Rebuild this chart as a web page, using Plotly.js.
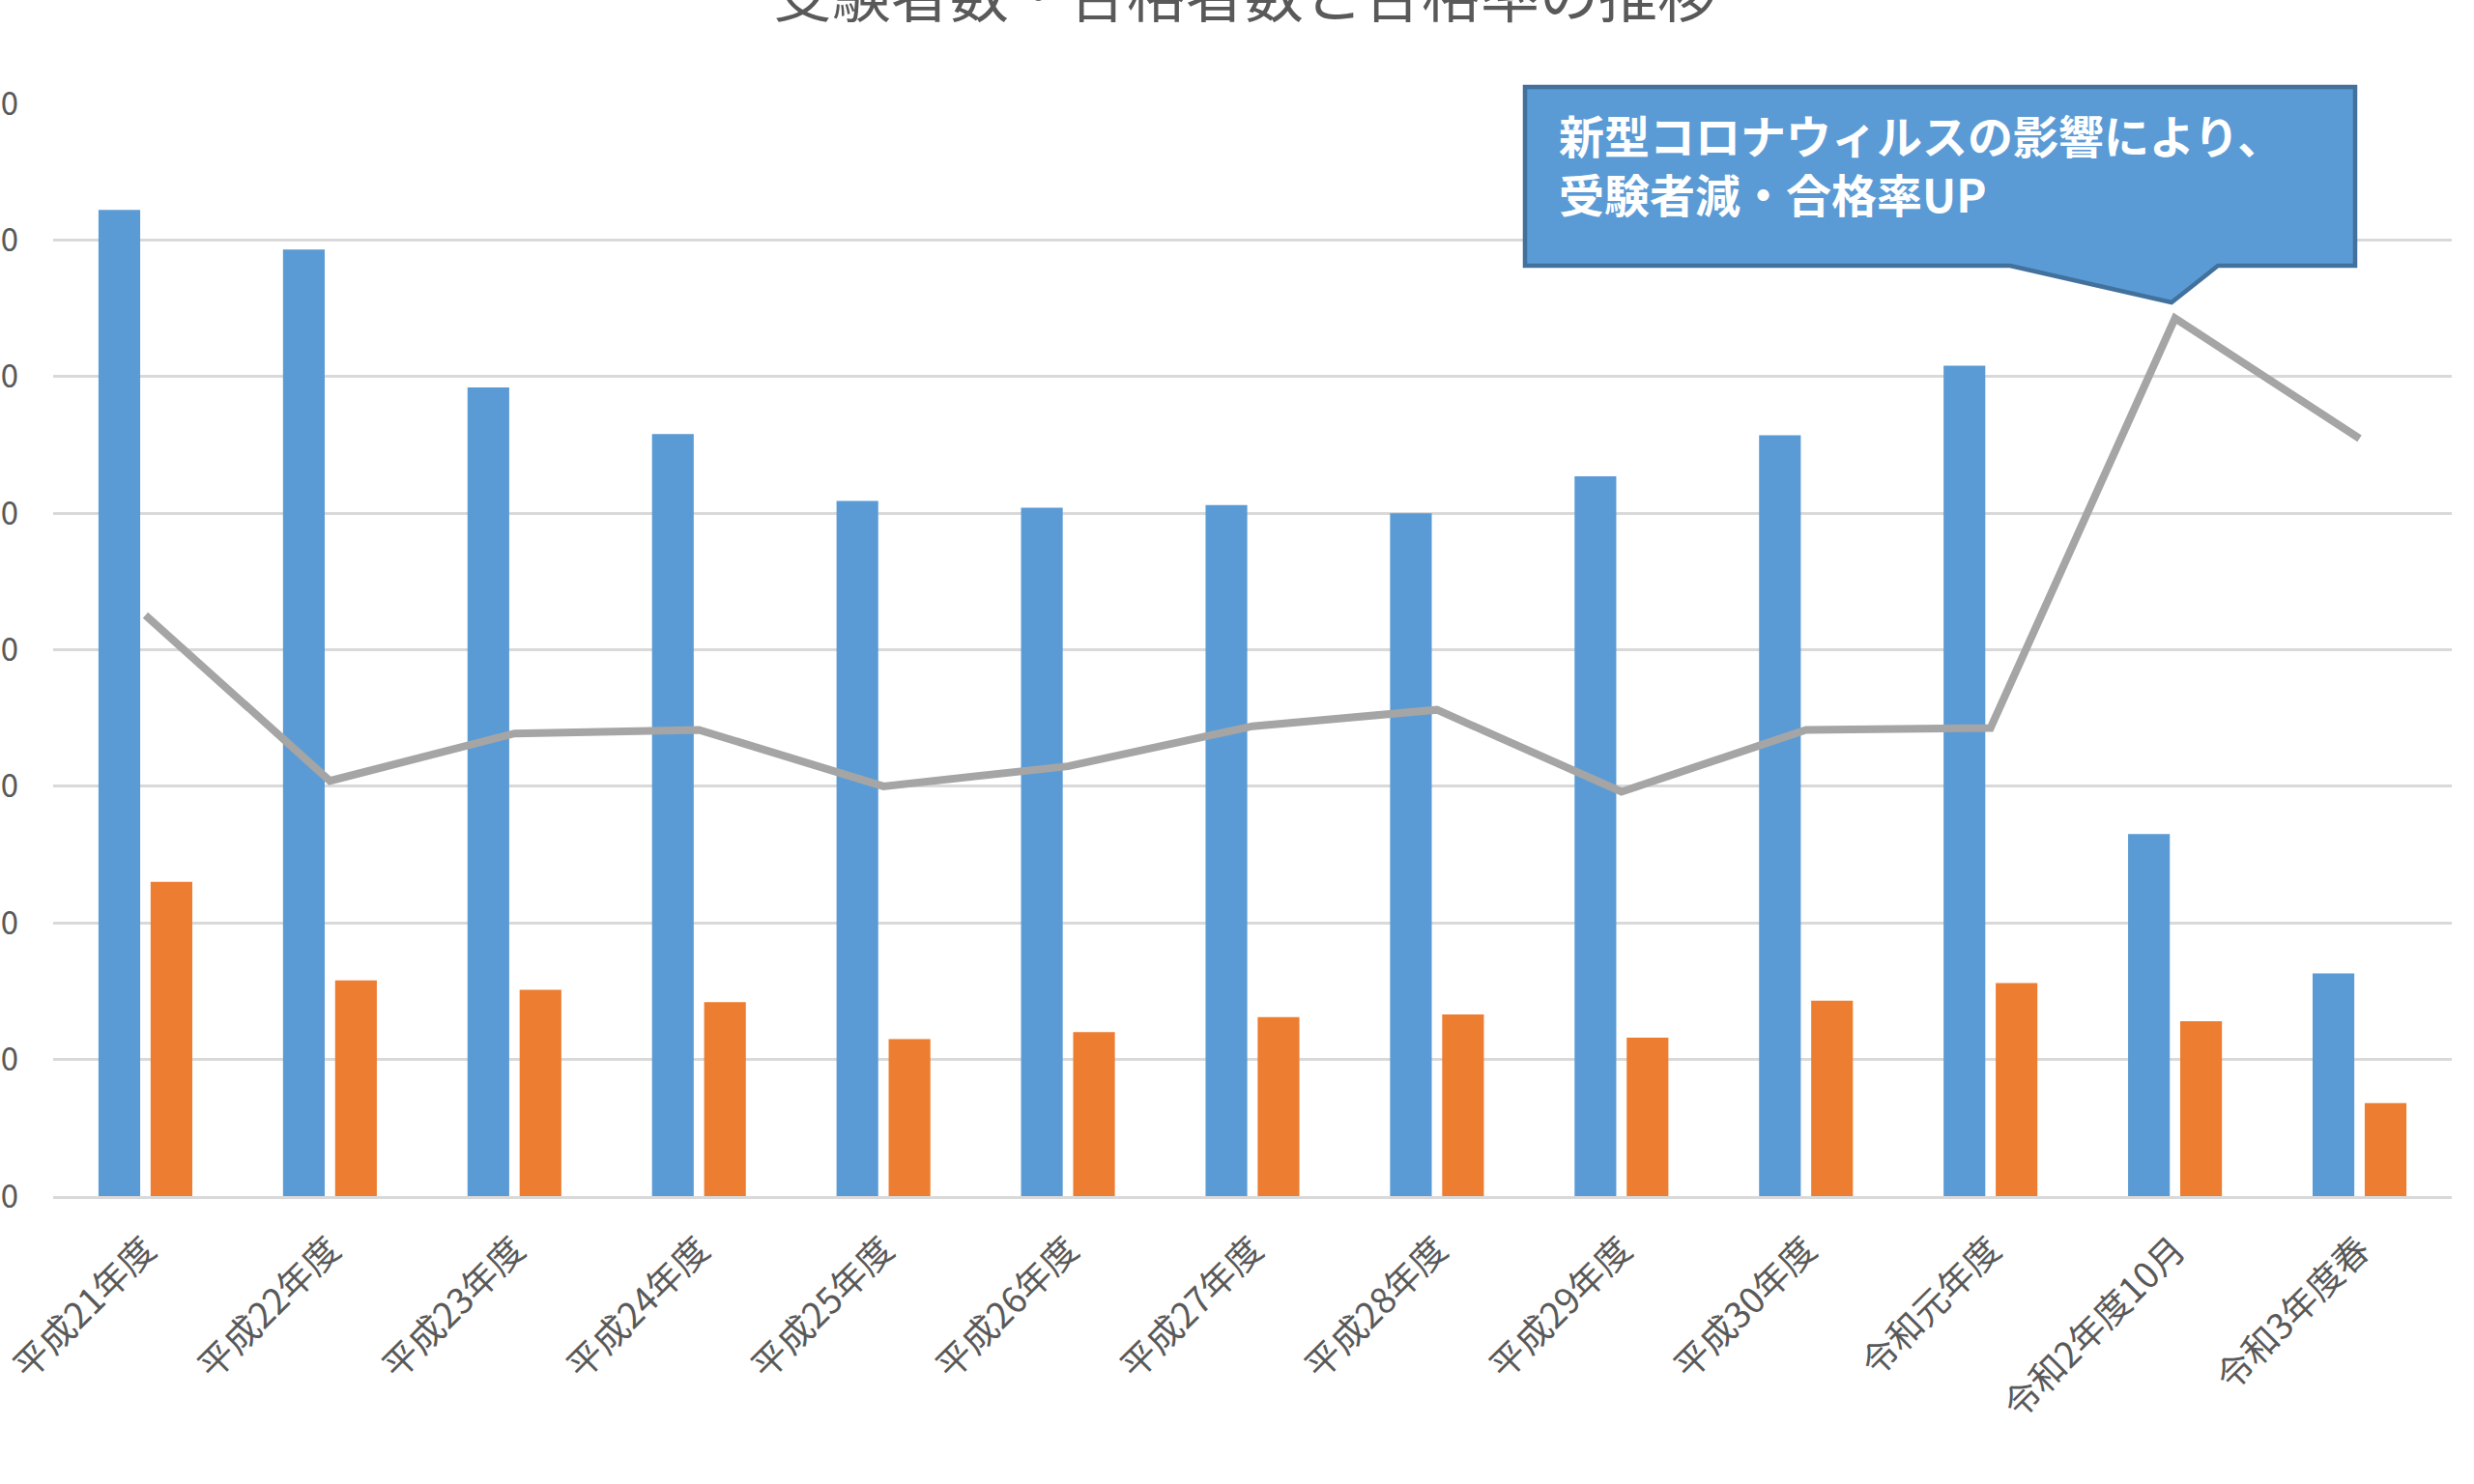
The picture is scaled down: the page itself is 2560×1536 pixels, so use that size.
<!DOCTYPE html>
<html>
<head>
<meta charset="utf-8">
<script src="https://cdn.plot.ly/plotly-3.0.1.min.js"></script>
<style>
  html, body { margin: 0; padding: 0; overflow: hidden; background: #ffffff; }
  #pass-plot { position: absolute; left: -145px; top: -100px; width: 2832px; height: 1700px; }
</style>
</head>
<body>
<div id="pass-plot"></div>
<script>
// 試験区分 (x axis)
var categories = ['平成21年度', '平成22年度', '平成23年度', '平成24年度', '平成25年度',
                  '平成26年度', '平成27年度', '平成28年度', '平成29年度', '平成30年度',
                  '令和元年度', '令和2年度10月', '令和3年度春'];

// 受験者数 / 合格者数 (left axis)
var examinees = [72200, 69300, 59200, 55800, 50900, 50400, 50600, 50000, 52700, 55700, 60800, 26500, 16300];
var passers   = [23000, 15800, 15100, 14200, 11500, 12000, 13100, 13300, 11600, 14300, 15600, 12800, 6800];

// 合格率 (right axis)
var passRate  = [0.319, 0.228, 0.254, 0.256, 0.225, 0.236, 0.258, 0.267, 0.222, 0.256, 0.257, 0.482, 0.416];

var countTicks = [0, 10000, 20000, 30000, 40000, 50000, 60000, 70000, 80000];

// page pixels -> paper fractions, for the callout only
function px(x){ return (x - 55) / 2482; }
function py(y){ return (1238 - y) / 1131; }

function init_pass_plot(){
    var trace1 = {
        x: categories,
        y: examinees,
        type: 'bar',
        name: '受験者数',
        marker: { color: '#5B9BD5' }
    };

    var trace2 = {
        x: categories,
        y: passers,
        type: 'bar',
        name: '合格者数',
        marker: { color: '#ED7D31' }
    };

    var trace3 = {
        x: categories,
        y: passRate,
        type: 'scatter',
        mode: 'lines',
        name: '合格率',
        yaxis: 'y2',
        line: { color: '#A5A5A5', width: 8 }
    };

    var data = [trace1, trace2, trace3];

    var calloutPath = 'M ' + px(1578) + ',' + py(90) +
                      ' L ' + px(2437) + ',' + py(90) +
                      ' L ' + px(2437) + ',' + py(275) +
                      ' L ' + px(2295) + ',' + py(275) +
                      ' L ' + px(2247) + ',' + py(313) +
                      ' L ' + px(2080) + ',' + py(275) +
                      ' L ' + px(1578) + ',' + py(275) + ' Z';

    var layout = {
        showlegend: false,
        width: 2832,
        height: 1700,
        paper_bgcolor: '#ffffff',
        plot_bgcolor: '#ffffff',
        font: { family: '"Noto Sans CJK JP", "Noto Sans", sans-serif', color: '#595959' },
        barmode: 'group',
        bargap: 0.435,
        bargroupgap: 0.2,
        margin: { l: 200, r: 150, t: 207, b: 362 },
        title: {
            text: '受験者数・合格者数と合格率の推移',
            font: { size: 61, color: '#595959' },
            xref: 'paper',
            x: 0.4968,
            xanchor: 'center',
            yref: 'container',
            y: 0.943,
            yanchor: 'middle'
        },
        xaxis: {
            type: 'category',
            tickangle: -45,
            tickfont: { size: 37, color: '#595959' },
            ticks: '',
            ticklabelstandoff: 16,
            showline: true,
            linecolor: '#D9D9D9',
            linewidth: 3,
            showgrid: false,
            fixedrange: true
        },
        yaxis: {
            range: [0, 80000],
            tickvals: countTicks,
            tickformat: ',d',
            tickfont: { size: 33, color: '#595959' },
            ticks: '',
            ticklabelstandoff: 35,
            showgrid: true,
            gridcolor: '#D9D9D9',
            gridwidth: 3,
            zeroline: false,
            showline: false,
            fixedrange: true
        },
        yaxis2: {
            range: [0, 0.6],
            overlaying: 'y',
            side: 'right',
            dtick: 0.1,
            tickformat: '.0%',
            tickfont: { size: 33, color: '#595959' },
            ticks: '',
            ticklabelstandoff: 40,
            showgrid: false,
            zeroline: false,
            showline: false,
            fixedrange: true
        },
        shapes: [{
            type: 'path',
            xref: 'paper',
            yref: 'paper',
            path: calloutPath,
            fillcolor: '#5B9BD5',
            line: { color: '#41719C', width: 4.5 },
            layer: 'above'
        }],
        annotations: [{
            xref: 'paper',
            yref: 'paper',
            x: px(1611),
            y: py(169.5),
            xanchor: 'left',
            yanchor: 'middle',
            align: 'left',
            showarrow: false,
            text: '<b>新型コロナウィルスの影響により、<br>受験者減・合格率UP</b>',
            font: { size: 47, color: '#ffffff' }
        }]
    };

    var additional_param = {
        staticPlot: true,
        displaylogo: false
    };

    var livePlotDiv = document.getElementById('pass-plot');
    if(livePlotDiv)
    {
        Plotly.newPlot('pass-plot', data, layout, additional_param);
    }
};

init_pass_plot();
</script>
</body>
</html>
